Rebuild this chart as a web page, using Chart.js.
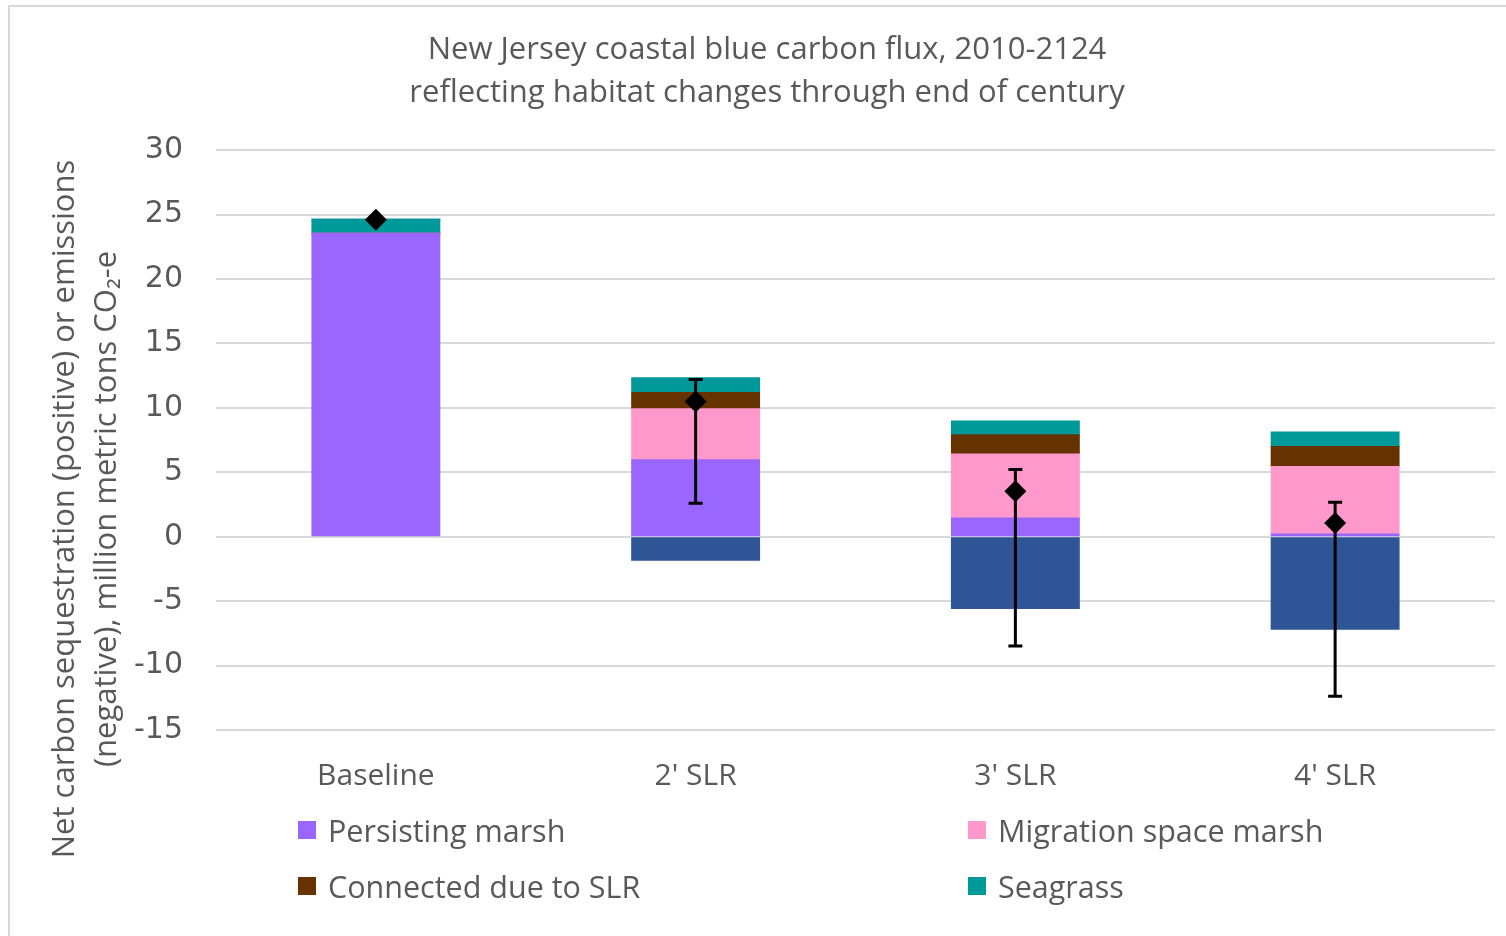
<!DOCTYPE html>
<html>
<head>
<meta charset="utf-8">
<title>NJ blue carbon flux</title>
<script src="https://cdn.jsdelivr.net/npm/chart.js@4.4.1/dist/chart.umd.min.js"></script>
<style>
  body { margin: 0; width: 1506px; height: 936px; overflow: hidden; background: #fff; font-family: "Open Sans", sans-serif; }
  #frame { position: absolute; left: 8px; top: 5px; width: 1600px; height: 1000px; border: 2px solid #d9d9d9; }
  #wrap { position: absolute; left: 0; top: 0; width: 1506px; height: 936px; }
  #legend { position: absolute; left: 0; top: 0; width: 1506px; height: 936px; pointer-events: none; }
  .item { position: absolute; display: flex; align-items: center; height: 36px; color: #595959; font-size: 30.5px; white-space: nowrap; }
  .box { width: 18px; height: 18px; margin-right: 12px; }
</style>
</head>
<body>
<div id="frame"></div>
<div id="wrap"><canvas id="fluxChart"></canvas></div>
<div id="legend"></div>

<script>
// data (million metric tons CO2-e)
const categories = ["Baseline", "2' SLR", "3' SLR", "4' SLR"];
const persistingMarsh = [23.55, 5.98, 1.45, 0.21];
const migrationMarsh = [0, 3.96, 4.97, 5.24];
const connectedSLR = [0, 1.25, 1.5, 1.56];
const seagrass = [1.09, 1.14, 1.07, 1.12];
const marshLoss = [0, -1.82, -5.58, -7.19];
const netFlux = [24.6, 10.49, 3.53, 1.06];
const errLow = [null, 2.6, -8.49, -12.39];
const errHigh = [null, 12.2, 5.22, 2.68];
const yTicks = [-15, -10, -5, 0, 5, 10, 15, 20, 25, 30];

const titleLines = ["New Jersey coastal blue carbon flux, 2010-2124", "reflecting habitat changes through end of century"];
const yTitleLines = ["Net carbon sequestration (positive) or emissions", "(negative), million metric tons CO\u2082-e"];

const grey = "#595959";

// error bars on the net flux points
const errorBars = {
  id: "errorBars",
  afterDatasetsDraw(chart) {
    const meta = chart.getDatasetMeta(5);
    const y = chart.scales.y;
    const ctx = chart.ctx;
    ctx.save();
    ctx.strokeStyle = "#000";
    ctx.lineWidth = 3;
    meta.data.forEach((pt, i) => {
      if (errLow[i] == null) return;
      const top = y.getPixelForValue(errHigh[i]);
      const bot = y.getPixelForValue(errLow[i]);
      ctx.beginPath();
      ctx.moveTo(pt.x, top);
      ctx.lineTo(pt.x, bot);
      ctx.moveTo(pt.x - 7, top);
      ctx.lineTo(pt.x + 7, top);
      ctx.moveTo(pt.x - 7, bot);
      ctx.lineTo(pt.x + 7, bot);
      ctx.stroke();
    });
    ctx.restore();
  }
};

// y axis title, placed like the excel one (not centred on the axis)
const yTitle = {
  id: "yTitle",
  afterDraw(chart, args, opts) {
    const ctx = chart.ctx;
    ctx.save();
    ctx.font = opts.size + "px 'Open Sans'";
    ctx.fillStyle = grey;
    ctx.textAlign = "center";
    ctx.textBaseline = "middle";
    ctx.translate(opts.x, opts.y);
    ctx.rotate(-Math.PI / 2);
    yTitleLines.forEach((line, i) => {
      ctx.fillText(line, 0, i * opts.lineGap);
    });
    ctx.restore();
  }
};

const fluxChart = new Chart(document.getElementById("fluxChart"), {
  type: "bar",
  data: {
    labels: categories,
    datasets: [
      { label: "Persisting marsh", data: persistingMarsh, backgroundColor: "#9966FF", stack: "s" },
      { label: "Migration space marsh", data: migrationMarsh, backgroundColor: "#FF99CC", stack: "s" },
      { label: "Connected due to SLR", data: connectedSLR, backgroundColor: "#663300", stack: "s" },
      { label: "Seagrass", data: seagrass, backgroundColor: "#009999", stack: "s" },
      { label: "Marsh loss", data: marshLoss, backgroundColor: "#2F5597", stack: "s" },
      {
        type: "line",
        label: "Net flux",
        data: netFlux,
        stack: "net",
        order: -1,
        showLine: false,
        pointStyle: "rectRot",
        pointRadius: 11,
        pointBackgroundColor: "#000",
        pointBorderColor: "#000",
        pointBorderWidth: 0
      }
    ]
  },
  options: {
    responsive: true,
    maintainAspectRatio: false,
    animation: false,
    layout: { padding: { left: 37, right: 9, top: 0, bottom: 114 } },
    datasets: {
      bar: { categoryPercentage: 1, barPercentage: 0.4, borderWidth: 0, inflateAmount: 0.5 }
    },
    plugins: {
      legend: { display: false },
      tooltip: { enabled: false },
      title: {
        display: true,
        text: titleLines,
        color: grey,
        font: { family: "Open Sans", size: 31, weight: "normal", lineHeight: 1.39 },
        padding: { top: 28.5, bottom: 35.5 }
      },
      yTitle: { x: 65, y: 509, size: 31, lineGap: 42 }
    },
    scales: {
      x: {
        stacked: true,
        grid: { display: false, drawTicks: false },
        border: { display: false },
        ticks: { color: grey, padding: 28, font: { family: "Open Sans", size: 30, lineHeight: 1.2 } }
      },
      y: {
        stacked: true,
        min: yTicks[0],
        max: yTicks[yTicks.length - 1],
        afterFit(scale) { scale.width = 179; },
        afterBuildTicks(scale) { scale.ticks = yTicks.map(v => ({ value: v })); },
        grid: { color: "#d9d9d9", lineWidth: 2, drawTicks: false },
        border: { display: false },
        ticks: { color: grey, padding: 33, font: { family: "DejaVu Sans", size: 30 } }
      }
    }
  },
  plugins: [errorBars, yTitle]
});

// legend, 2 x 2 like the original
const legendSpots = [[298, 812], [968, 812], [298, 868], [968, 868]];
const legendDiv = document.getElementById("legend");
fluxChart.data.datasets.slice(0, 4).forEach((ds, i) => {
  const item = document.createElement("div");
  item.className = "item";
  item.style.left = legendSpots[i][0] + "px";
  item.style.top = legendSpots[i][1] + "px";
  item.innerHTML = `<span class="box" style="background:${ds.backgroundColor}"></span>${ds.label}`;
  legendDiv.appendChild(item);
});
</script>
</body>
</html>
